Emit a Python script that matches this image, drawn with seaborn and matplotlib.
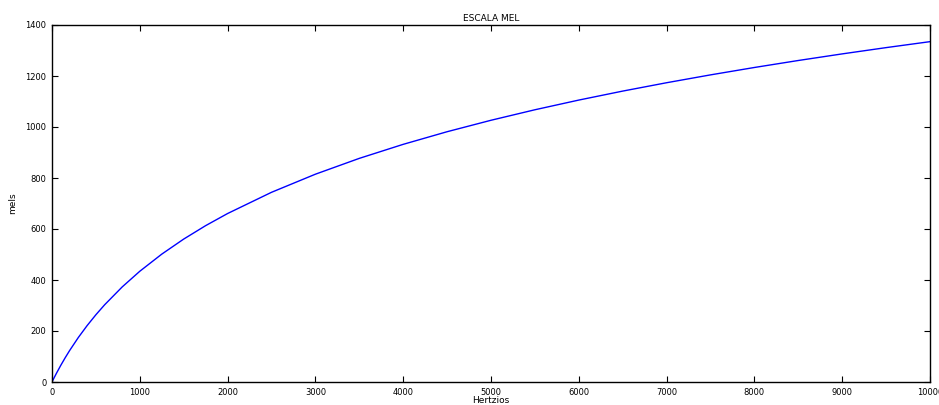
import matplotlib
matplotlib.use("Agg")
import matplotlib.pyplot as plt
import seaborn as sns
import pandas as pd

# Data
hertz = [0, 25, 50, 100, 150, 200, 300, 400, 500, 600, 800, 1000, 1250, 1500,
         1750, 2000, 2500, 3000, 3500, 4000, 4500, 5000, 5500, 6000, 6500,
         7000, 7500, 8000, 8500, 9000, 9500, 10000]
mels = [0, 17.2, 33.8, 65.4, 95.0, 123.0, 174.6, 221.2, 263.8, 303.0, 373.0,
        434.3, 501.4, 560.5, 613.2, 660.7, 743.9, 814.9, 877.0, 932.0, 981.5,
        1026.4, 1067.6, 1105.6, 1140.8, 1173.6, 1204.4, 1233.4, 1260.8,
        1286.7, 1311.3, 1334.7]
x_ticks = [0, 1000, 2000, 3000, 4000, 5000, 6000, 7000, 8000, 9000, 10000]
y_ticks = [0, 200, 400, 600, 800, 1000, 1200, 1400]
title = "ESCALA MEL"
x_label = "Hertzios"
y_label = "mels"

sns.set_style("ticks")
plt.rcParams['font.family'] = ['DejaVu Sans']
plt.rcParams['text.color'] = 'black'
plt.rcParams['axes.labelcolor'] = 'black'

df = pd.DataFrame({"Hertzios": hertz, "mels": mels})

fig = plt.figure(figsize=(9.39, 4.05), dpi=100)
ax = fig.add_axes([52 / 939, 1 - 382 / 405, (930 - 52) / 939, (382 - 25) / 405])
sns.lineplot(data=df, x="Hertzios", y="mels", ax=ax, color=(0, 0, 1), linewidth=1.0)

ax.set_xlim(0, 10000)
ax.set_ylim(0, 1400)
ax.set_xticks(x_ticks)
ax.set_yticks(y_ticks)
ax.set_xticklabels([str(t) for t in x_ticks], fontsize=6)
ax.set_yticklabels([str(t) for t in y_ticks], fontsize=6)
ax.tick_params(direction="in", length=4, width=0.8, top=True, right=True,
               pad=4, colors="black", labelcolor="black")
for s in ax.spines.values():
    s.set_visible(True)
    s.set_linewidth(1.0)
    s.set_color("black")

ax.set_title(title, fontsize=6.5, pad=3, color="black")
ax.set_xlabel(x_label, fontsize=6.5)
ax.set_ylabel(y_label, fontsize=6.5)
ax.xaxis.set_label_coords(0.5, (382 - 396) / 357)
ax.yaxis.set_label_coords((17 - 52) / 878, 0.5)

fig.savefig("out.png", dpi=100)
